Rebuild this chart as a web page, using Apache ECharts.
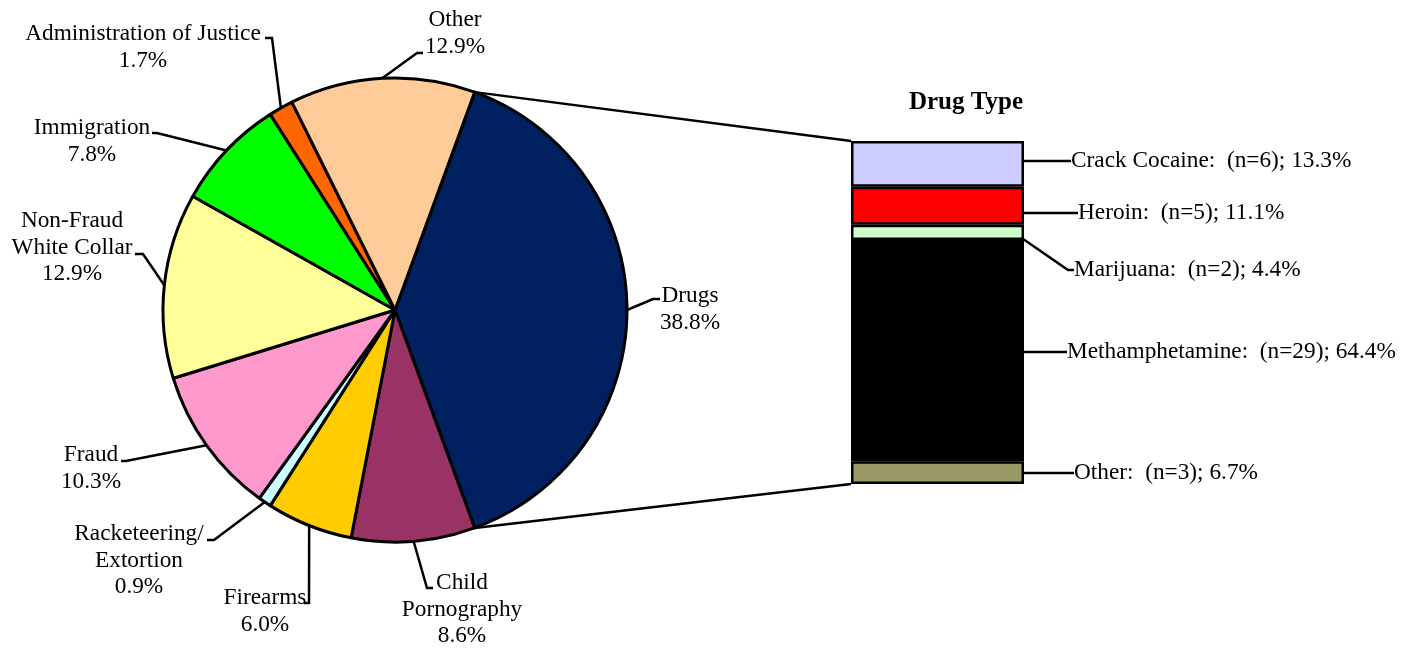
<!DOCTYPE html>
<html>
<head>
<meta charset="utf-8">
<script src="https://cdn.jsdelivr.net/npm/echarts@6/dist/echarts.min.js"></script>
<style>
  html, body { margin: 0; padding: 0; background: #fff; }
  #chart { width: 1414px; height: 648px; }
</style>
</head>
<body>
<div id="chart"></div>
<script>
// offense types (pie), clockwise from Drugs
const offenseNames = ['Drugs', 'Child\nPornography', 'Firearms', 'Racketeering/\nExtortion', 'Fraud',
  'Non-Fraud\nWhite Collar', 'Immigration', 'Administration of Justice', 'Other']
const offensePct = [38.8, 8.6, 6.0, 0.9, 10.3, 12.9, 7.8, 1.7, 12.9]
const offenseColors = ['#002060', '#993366', '#ffcc00', '#ccffff', '#ff99cc', '#ffff99', '#00ff00', '#ff6600', '#ffcc99']

// drug type breakdown (bar), top to bottom
const drugNames = ['Crack Cocaine', 'Heroin', 'Marijuana', 'Methamphetamine', 'Other']
const drugCounts = [6, 5, 2, 29, 3]
const drugPct = [13.3, 11.1, 4.4, 64.4, 6.7]
const drugColors = ['#ccccff', '#ff0000', '#ccffcc', '#000000', '#999966']

const FONT = '"Liberation Serif", "Times New Roman", serif'
const FS = 23.3
const LH = 26.5
const PIE_C = [395, 310]
const PIE_R = 232
const BAR = { left: 851, top: 141, width: 173, height: 343 }

// pie label placement: [text centre x, first line centre y, bend x, bend y, end x, end y]
const pieLabelPos = [
  [690, 296, 653, 299, 660, 299],
  [462, 583, 427, 588, 433, 588],
  [265, 598, 309, 603, 304, 603],
  [139, 534, 214, 540, 207, 540],
  [91, 455, 126, 461, 121, 461],
  [72, 221, 143, 254, 135, 254],
  [92, 128, 157, 133, 152, 133],
  [143, 34, 272, 38, 265, 38],
  [455, 20, 417, 53, 423, 53],
]
// bar label placement: [text left x, text centre y]
const barLabelPos = [[1071, 161], [1078, 213], [1074, 270], [1067, 352], [1074, 473]]
const BAR_GAP = 4

const pieTotal = offensePct.reduce((a, b) => a + b, 0)
const startAngle = offensePct[0] / pieTotal * 180
const drugTotal = drugCounts.reduce((a, b) => a + b, 0)

const chart = echarts.init(document.getElementById('chart'), null, { renderer: 'canvas' })

function edgePoint(deg) {
  const a = deg * Math.PI / 180
  return [PIE_C[0] + PIE_R * Math.cos(a), PIE_C[1] - PIE_R * Math.sin(a)]
}

const barSeries = drugNames.map((name, i) => ({
  name, type: 'bar', stack: 'drug', barWidth: '100%',
  data: [drugCounts[i]],
  itemStyle: { color: drugColors[i], borderColor: '#000', borderWidth: 2.5 },
  label: { show: true, position: 'right', color: '#000', fontFamily: FONT, fontSize: FS,
    padding: [0, 0, 0, BAR_GAP],
    formatter: () => `${name}:  (n=${drugCounts[i]}); ${drugPct[i].toFixed(1)}%` },
  labelLine: { show: true, length2: 6, lineStyle: { color: '#000', width: 2.5 } },
  labelLayout: () => ({ x: barLabelPos[i][0] - BAR_GAP, y: barLabelPos[i][1], align: 'left', verticalAlign: 'middle' }),
  emphasis: { disabled: true },
}))

const p0 = edgePoint(startAngle)
const p1 = edgePoint(-startAngle)

chart.setOption({
  animation: false,
  backgroundColor: '#fff',
  title: { text: 'Drug Type', left: 961, top: 85, textAlign: 'center',
    textStyle: { fontFamily: FONT, fontSize: 25, fontWeight: 'bold', color: '#000' } },
  grid: { left: BAR.left, top: BAR.top, width: BAR.width, height: BAR.height },
  xAxis: { type: 'category', data: ['Drugs'], show: false },
  yAxis: { type: 'value', min: 0, max: drugTotal, inverse: true, show: false },
  graphic: [
    { type: 'line', shape: { x1: p0[0], y1: p0[1], x2: BAR.left, y2: BAR.top }, style: { stroke: '#000', lineWidth: 2.5 } },
    { type: 'line', shape: { x1: p1[0], y1: p1[1], x2: BAR.left, y2: BAR.top + BAR.height }, style: { stroke: '#000', lineWidth: 2.5 } },
  ],
  series: [
    {
      type: 'pie', center: PIE_C, radius: PIE_R, startAngle, clockwise: true,
      avoidLabelOverlap: false,
      data: offenseNames.map((n, i) => ({ name: n, value: offensePct[i], itemStyle: { color: offenseColors[i] } })),
      itemStyle: { borderColor: '#000', borderWidth: 3 },
      label: { show: true, position: 'outside', color: '#000', fontFamily: FONT, fontSize: FS, lineHeight: LH,
        formatter: p => `${p.name}\n${p.value.toFixed(1)}%` },
      labelLine: { show: true, length: 10, length2: 10, lineStyle: { color: '#000', width: 2.5 } },
      labelLayout: p => {
        const L = pieLabelPos[p.dataIndex]
        const start = (p.labelLinePoints && p.labelLinePoints[0]) || [0, 0]
        return { x: L[0], y: L[1] - LH / 2, align: 'center', verticalAlign: 'top',
          labelLinePoints: [start, [L[2], L[3]], [L[4], L[5]]] }
      },
      emphasis: { disabled: true },
    },
    ...barSeries,
  ],
})
</script>
</body>
</html>
